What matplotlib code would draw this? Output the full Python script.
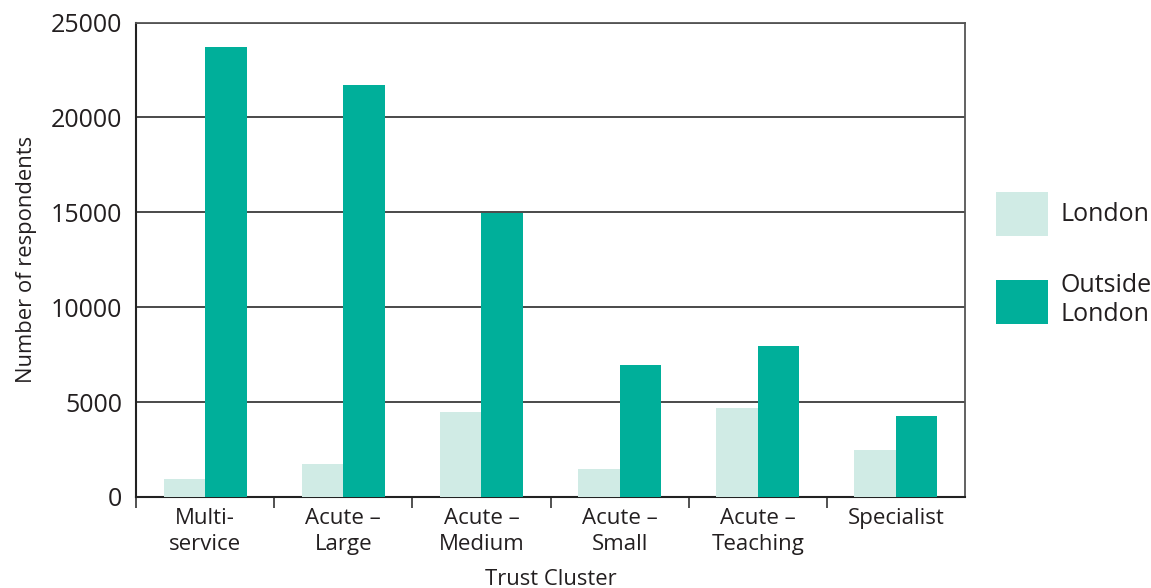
import matplotlib
matplotlib.use("Agg")
import matplotlib.pyplot as plt
import numpy as np

categories = ["Multi-\nservice", "Acute –\nLarge", "Acute –\nMedium", "Acute –\nSmall", "Acute –\nTeaching", "Specialist"]
london = [950, 1750, 4500, 1500, 4700, 2500]
outside_london = [23700, 21700, 14950, 6950, 7950, 4250]
series_names = ["London", "Outside\nLondon"]
yticks = [0, 5000, 10000, 15000, 20000, 25000]

plt.rcParams['font.family'] = ['Open Sans', 'DejaVu Sans']
text_color = "#231f20"

fig = plt.figure(figsize=(11.51, 5.88), dpi=100)
ax = fig.add_axes([136/1151, 91/588, 829/1151, 474.5/588])

x = np.arange(len(categories))
w = 0.30
ax.bar(x - w/2, london, width=w, color="#d0ebe5", zorder=3, label=series_names[0])
ax.bar(x + w/2, outside_london, width=w, color="#00af9a", zorder=3, label=series_names[1])

ax.set_xlim(-0.5, len(categories) - 0.5)
ax.set_ylim(0, 25000)
ax.set_yticks(yticks)
ax.set_yticklabels([str(v) for v in yticks], fontsize=18, color=text_color)
ax.tick_params(axis='y', length=0, pad=10)
ax.yaxis.grid(True, color="#3a3a3a", linewidth=1.3, zorder=1)

ax.set_xticks(np.arange(-0.5, len(categories) - 1), minor=False)
ax.set_xticklabels([])
ax.tick_params(axis='x', which='major', length=8, width=1.2, color="#333333", direction='out')
ax.set_xticks(x, minor=True)
ax.set_xticklabels(categories, minor=True, fontsize=16, color=text_color, linespacing=1.3)
ax.tick_params(axis='x', which='minor', length=0, pad=8)

for s in ['left', 'bottom']:
    ax.spines[s].set_color("#222222")
    ax.spines[s].set_linewidth(1.5)
for s in ['top', 'right']:
    ax.spines[s].set_color("#555555")
    ax.spines[s].set_linewidth(1.3)

ax.set_ylabel("Number of respondents", fontsize=15.8, color=text_color, labelpad=10)
ax.set_xlabel("Trust Cluster", fontsize=15.8, color=text_color, labelpad=10)

leg = ax.legend(loc='upper left', bbox_to_anchor=(1.037, 0.643), frameon=False,
                fontsize=18, handlelength=2.08, handleheight=2.31, labelspacing=1.5,
                handletextpad=0.5, borderaxespad=0, borderpad=0, labelcolor=text_color)

fig.savefig("out.png", dpi=100)
